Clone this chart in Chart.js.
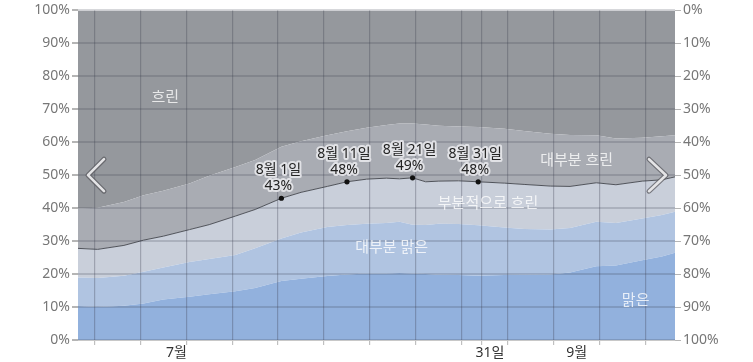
<!DOCTYPE html>
<html>
<head>
<meta charset="utf-8">
<script src="https://cdn.jsdelivr.net/npm/chart.js@4/dist/chart.umd.min.js"></script>
<style>
    body { margin: 0; background: #fff; }
    #wrap { width: 753px; height: 362px; }
</style>
</head>
<body>
<div id="wrap"><canvas id="cloudChart"></canvas></div>
<script>
// Day index: 0 = 7월 1일 ... 91 = 9월 30일
const days = [0, 3, 7, 10, 13, 17, 20, 24, 27, 31, 34, 38, 41, 44, 47, 49, 51, 53, 55, 58, 61, 65, 68, 72, 75, 79, 82, 86, 89, 91];

// Cumulative upper edge of each band (%)
const clearTop = [10.3, 10.0, 10.4, 11.1, 12.3, 13.1, 13.9, 14.8, 15.8, 17.9, 18.6, 19.4, 19.9, 20.2, 20.2, 20.3, 20.2, 20.0, 19.8, 19.7, 19.5, 19.7, 19.8, 19.9, 20.5, 22.4, 22.6, 24.2, 25.3, 26.5];
const mostlyClearTop = [19.0, 18.8, 19.5, 20.7, 22.0, 23.7, 24.6, 25.8, 27.8, 30.8, 32.6, 34.3, 34.9, 35.3, 35.5, 35.9, 35.0, 34.9, 35.3, 35.2, 34.8, 34.1, 33.7, 33.5, 34.0, 35.9, 35.5, 36.9, 37.9, 38.9];
const partlyCloudyTop = [27.8, 27.5, 28.7, 30.3, 31.5, 33.5, 35.0, 37.6, 39.6, 43.0, 44.8, 46.6, 48.0, 48.8, 49.1, 48.9, 49.2, 48.0, 48.2, 48.3, 48.0, 47.6, 47.2, 46.7, 46.6, 47.7, 47.1, 48.2, 48.6, 49.5];
const mostlyCloudyTop = [39.9, 40.1, 41.9, 43.9, 45.3, 47.5, 49.8, 52.5, 54.6, 58.6, 60.3, 62.1, 63.3, 64.4, 65.2, 65.7, 65.7, 65.4, 65.0, 64.8, 64.6, 64.1, 63.4, 62.6, 62.2, 62.1, 61.1, 61.4, 61.8, 62.1];
const overcastTop = days.map(() => 100);

const bandNames = ['맑은', '대부분 맑은', '부분적으로 흐린', '대부분 흐린', '흐린'];

// Marked dates on the line
const markDays = [31, 41, 51, 61];
const markLabels = ['8월 1일', '8월 11일', '8월 21일', '8월 31일'];

// x axis: weekly grid + month boundary, month labels
const gridDays = [2.5, 9.5, 16.5, 23.5, 30.5, 37.5, 44.5, 51.5, 58.5, 61.5, 65.5, 72.5, 79.5, 86.5];
const tickDays = [15, 62.8, 76];
const tickLabels = ['7월', '31일', '9월'];

// y axis ticks
const yTicks = [0, 10, 20, 30, 40, 50, 60, 70, 80, 90, 100];

const FONT = "'Noto Sans', 'Noto Sans CJK KR', sans-serif";

function series(arr) {
    return days.map((d, i) => ({ x: d, y: arr[i] }));
}

// Band name placement (day, %)
const bandLabelPos = [
    [85, 12],
    [47.8, 27.9],
    [62.5, 41.2],
    [76, 54.5],
    [13.3, 73.6]
];

const overlayPlugin = {
    id: 'overlay',
    afterDraw(chart) {
        const ctx = chart.ctx;
        const xs = chart.scales.x;
        const ys = chart.scales.y;
        const area = chart.chartArea;

        // band names
        ctx.save();
        ctx.font = '15px ' + FONT;
        ctx.textAlign = 'center';
        ctx.textBaseline = 'middle';
        ctx.fillStyle = 'rgba(255,255,255,0.78)';
        bandNames.forEach((name, i) => {
            const p = bandLabelPos[i];
            ctx.fillText(name, xs.getPixelForValue(p[0]), ys.getPixelForValue(p[1]));
        });

        // labels above marked points
        ctx.font = '14px ' + FONT;
        ctx.lineJoin = 'round';
        markDays.forEach((d, k) => {
            const i = days.indexOf(d);
            const v = partlyCloudyTop[i];
            const px = xs.getPixelForValue(d) - 3;
            const py = ys.getPixelForValue(v);
            const lines = [[markLabels[k], py - 28], [Math.round(v) + '%', py - 12]];
            lines.forEach(([t, y]) => {
                ctx.lineWidth = 4;
                ctx.strokeStyle = 'rgba(235,235,238,0.85)';
                ctx.strokeText(t, px, y);
                ctx.fillStyle = '#222';
                ctx.fillText(t, px, y);
            });
        });

        // navigation chevrons
        const midY = (area.top + area.bottom) / 2;
        const chevrons = [
            [[area.left + 26, midY - 16], [area.left + 10, midY], [area.left + 26, midY + 16]],
            [[area.right - 26, midY - 16], [area.right - 9, midY], [area.right - 26, midY + 16]]
        ];
        ctx.lineCap = 'round';
        chevrons.forEach(pts => {
            [[5, 'rgba(90,90,95,0.75)'], [2.6, '#e4e4e6']].forEach(([w, c]) => {
                ctx.beginPath();
                ctx.moveTo(pts[0][0], pts[0][1]);
                ctx.lineTo(pts[1][0], pts[1][1]);
                ctx.lineTo(pts[2][0], pts[2][1]);
                ctx.lineWidth = w;
                ctx.strokeStyle = c;
                ctx.stroke();
            });
        });
        ctx.restore();
    }
};

const isGrid = v => gridDays.includes(v);

new Chart(document.getElementById('cloudChart'), {
    type: 'line',
    data: {
        datasets: [{
            label: bandNames[0],
            data: series(clearTop),
            fill: 'origin',
            backgroundColor: '#92b1dd',
            borderWidth: 0,
            pointRadius: 0
        }, {
            label: bandNames[1],
            data: series(mostlyClearTop),
            fill: '-1',
            backgroundColor: '#b0c4e1',
            borderWidth: 0,
            pointRadius: 0
        }, {
            label: bandNames[2],
            data: series(partlyCloudyTop),
            fill: '-1',
            backgroundColor: '#c9cfda',
            borderColor: '#50535a',
            borderWidth: 1,
            pointRadius: c => markDays.includes(days[c.dataIndex]) ? 2.6 : 0,
            pointBackgroundColor: '#111',
            pointBorderWidth: 0
        }, {
            label: bandNames[3],
            data: series(mostlyCloudyTop),
            fill: '-1',
            backgroundColor: '#a9acb3',
            borderWidth: 0,
            pointRadius: 0
        }, {
            label: bandNames[4],
            data: series(overcastTop),
            fill: '-1',
            backgroundColor: '#95989d',
            borderWidth: 0,
            pointRadius: 0
        }]
    },
    options: {
        responsive: true,
        maintainAspectRatio: false,
        animation: false,
        layout: { padding: { top: 10, left: 0, right: 0, bottom: 0 } },
        plugins: {
            legend: { display: false },
            tooltip: { enabled: false }
        },
        elements: { line: { tension: 0 } },
        scales: {
            x: {
                type: 'linear',
                min: 0,
                max: 91,
                z: 1,
                afterBuildTicks: s => {
                    s.ticks = gridDays.concat(tickDays).map(v => ({ value: v }));
                },
                afterFit: s => { s.height = 22; },
                border: { display: true, color: '#c8c8c8', z: 2 },
                grid: {
                    z: 1,
                    color: c => (c.tick && isGrid(c.tick.value)) ? 'rgba(55,60,75,0.3)' : 'rgba(0,0,0,0)',
                    tickColor: c => (c.tick && isGrid(c.tick.value)) ? '#c0c0c0' : 'rgba(0,0,0,0)',
                    lineWidth: 1.2,
                    tickLength: 5
                },
                ticks: {
                    autoSkip: false,
                    maxRotation: 0,
                    padding: 0,
                    color: '#333',
                    font: { family: FONT, size: 14 },
                    callback: v => {
                        const i = tickDays.indexOf(v);
                        return i >= 0 ? tickLabels[i] : '';
                    }
                }
            },
            y: {
                position: 'left',
                min: 0,
                max: 100,
                z: 1,
                afterBuildTicks: s => { s.ticks = yTicks.map(v => ({ value: v })); },
                afterFit: s => { s.width = 78; },
                border: { display: false },
                grid: {
                    z: 1,
                    color: 'rgba(55,60,75,0.2)',
                    tickColor: '#b5b5b5',
                    lineWidth: 2,
                    tickLength: 6
                },
                ticks: {
                    padding: 2,
                    color: '#777',
                    font: { family: FONT, size: 14 },
                    callback: v => v + '%'
                }
            },
            yRight: {
                position: 'right',
                min: 0,
                max: 100,
                reverse: true,
                afterBuildTicks: s => { s.ticks = yTicks.map(v => ({ value: v })); },
                afterFit: s => { s.width = 78; },
                border: { display: false },
                grid: {
                    drawOnChartArea: false,
                    tickColor: '#b5b5b5',
                    tickLength: 6
                },
                ticks: {
                    padding: 2,
                    color: '#777',
                    font: { family: FONT, size: 14 },
                    callback: v => v + '%'
                }
            }
        }
    },
    plugins: [overlayPlugin]
});
</script>
</body>
</html>
